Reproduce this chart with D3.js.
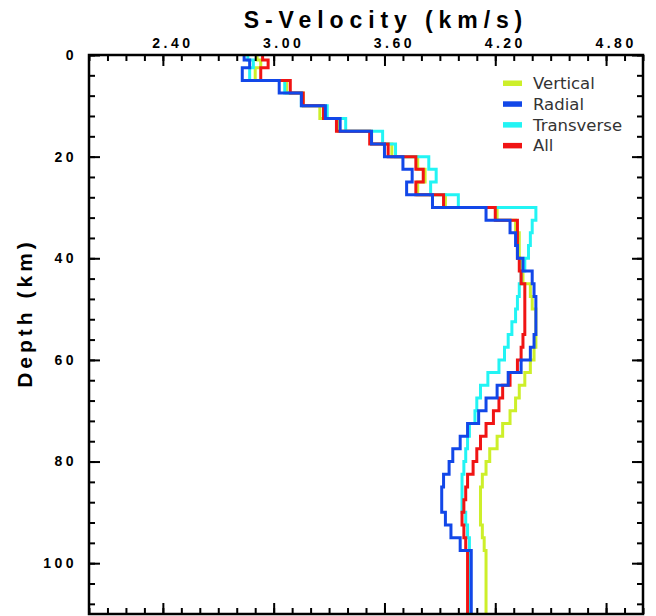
<!DOCTYPE html>
<html><head><meta charset="utf-8">
<script src="https://cdn.jsdelivr.net/npm/d3@7"></script>
<style>body{margin:0;background:#fff;} svg{display:block;}</style>
</head><body>
<script>
// Layer top depths (km); last layer extends to bottomDepth
const layerTops = [0,1,2.5,5,7.5,10,12.5,15,17.5,20,22.5,25,27.5,30,32.5,35,37.5,40,42.5,45,47.5,50,52.5,55,57.5,60,62.5,65,67.5,70,72.5,75,77.5,80,82.5,85,87.5,90,92.5,95,97.5];
const bottomDepth = 110;

const vertical = [2.91,2.93,2.90,3.07,3.16,3.25,3.35,3.53,3.64,3.78,3.82,3.78,3.93,4.21,4.31,4.33,4.33,4.34,4.35,4.39,4.40,4.42,4.42,4.42,4.41,4.39,4.36,4.33,4.31,4.28,4.24,4.21,4.17,4.15,4.13,4.12,4.12,4.12,4.13,4.14,4.15];
const radial = [2.84,2.87,2.83,3.03,3.15,3.28,3.36,3.53,3.60,3.70,3.75,3.72,3.86,4.15,4.28,4.31,4.32,4.35,4.40,4.41,4.42,4.42,4.42,4.41,4.39,4.34,4.27,4.21,4.15,4.11,4.05,4.01,3.97,3.95,3.92,3.91,3.91,3.93,3.96,4.01,4.07];
const transverse = [2.86,2.89,2.87,3.06,3.15,3.29,3.39,3.59,3.66,3.84,3.88,3.85,4.00,4.42,4.40,4.39,4.38,4.36,4.34,4.33,4.32,4.31,4.29,4.27,4.25,4.22,4.16,4.12,4.10,4.09,4.06,4.05,4.04,4.03,4.02,4.02,4.02,4.04,4.05,4.06,4.06];
const all = [2.94,2.97,2.93,3.09,3.16,3.27,3.34,3.52,3.62,3.77,3.81,3.77,3.92,4.20,4.32,4.32,4.32,4.33,4.34,4.36,4.36,4.36,4.36,4.35,4.34,4.32,4.28,4.24,4.22,4.19,4.15,4.12,4.10,4.08,4.05,4.04,4.03,4.02,4.03,4.04,4.05];

const seriesNames = ["Vertical","Radial","Transverse","All"];
const seriesColors = ["#cdef2a","#1247e8","#22f4f4","#f01414"];
const drawOrder = ["Vertical","Transverse","All","Radial"];

const xTickLabels = ["2.40","3.00","3.60","4.20","4.80"];
const yTickLabels = ["0","20","40","60","80","100"];
const xDomain = [2.0, 5.0];
const yDomain = [0, 110];
const xMinorStep = 0.1;
const yMinorStep = 4;

const W = 656, H = 616;
const M = {left: 89, right: 643, top: 55, bottom: 614};

const svg = d3.select("body").append("svg").attr("width", W).attr("height", H);
const x = d3.scaleLinear().domain(xDomain).range([M.left, M.right]);
const y = d3.scaleLinear().domain(yDomain).range([M.top, M.bottom]);

const seriesData = {Vertical: vertical, Radial: radial, Transverse: transverse, All: all};

// profiles
const line = d3.line().x(d => x(d[0])).y(d => y(d[1]));
svg.append("clipPath").attr("id","plotclip").append("rect")
  .attr("x", M.left).attr("y", M.top).attr("width", M.right-M.left).attr("height", M.bottom-M.top);
const g = svg.append("g").attr("clip-path","url(#plotclip)");
drawOrder.forEach(name => {
  const vals = seriesData[name];
  const pts = [];
  vals.forEach((v,i) => {
    const top = layerTops[i];
    const bot = i < layerTops.length-1 ? layerTops[i+1] : bottomDepth;
    pts.push([v, top]); pts.push([v, bot]);
  });
  g.append("path").attr("d", line(pts)).attr("fill","none")
    .attr("stroke", seriesColors[seriesNames.indexOf(name)])
    .attr("stroke-width", 3).attr("stroke-linejoin","miter");
});

// axes ticks (inward)
const xMajor = xTickLabels.map(Number);
const yMajor = yTickLabels.map(Number);
const xMinor = d3.range(Math.round((xDomain[1]-xDomain[0])/xMinorStep)+1).map(i => +(xDomain[0]+i*xMinorStep).toFixed(2));
const yMinor = d3.range(0, yDomain[1]+0.001, yMinorStep);

function styleAxis(sel){
  sel.select(".domain").remove();
  sel.selectAll(".tick line").attr("stroke","#000").attr("stroke-width",2);
  sel.selectAll(".tick text").remove();
}
const tickMajor = 11, tickMinor = 6;
svg.append("g").attr("transform",`translate(0,${M.top})`).call(d3.axisBottom(x).tickValues(xMinor).tickSize(tickMinor)).call(styleAxis);
svg.append("g").attr("transform",`translate(0,${M.top})`).call(d3.axisBottom(x).tickValues(xMajor).tickSize(tickMajor)).call(styleAxis);
svg.append("g").attr("transform",`translate(0,${M.bottom})`).call(d3.axisTop(x).tickValues(xMinor).tickSize(tickMinor)).call(styleAxis);
svg.append("g").attr("transform",`translate(0,${M.bottom})`).call(d3.axisTop(x).tickValues(xMajor).tickSize(tickMajor)).call(styleAxis);
svg.append("g").attr("transform",`translate(${M.left},0)`).call(d3.axisRight(y).tickValues(yMinor).tickSize(tickMinor)).call(styleAxis);
svg.append("g").attr("transform",`translate(${M.left},0)`).call(d3.axisRight(y).tickValues(yMajor).tickSize(tickMajor)).call(styleAxis);
svg.append("g").attr("transform",`translate(${M.right},0)`).call(d3.axisLeft(y).tickValues(yMinor).tickSize(tickMinor)).call(styleAxis);
svg.append("g").attr("transform",`translate(${M.right},0)`).call(d3.axisLeft(y).tickValues(yMajor).tickSize(tickMajor)).call(styleAxis);

// frame
svg.append("rect").attr("x", M.left).attr("y", M.top).attr("width", M.right-M.left).attr("height", M.bottom-M.top)
  .attr("fill","none").attr("stroke","#000").attr("stroke-width",2.5);

const font = "'Liberation Sans', Arial, sans-serif";
// top tick labels
svg.append("g").selectAll("text").data(xTickLabels).join("text")
  .attr("x", d => x(+d) + 10).attr("y", 48)
  .attr("text-anchor","middle").attr("font-family", font).attr("font-weight","bold")
  .attr("font-size", 14).attr("letter-spacing", 3.5).attr("fill","#000").text(d => d);
// left tick labels
svg.append("g").selectAll("text").data(yTickLabels).join("text")
  .attr("x", 77).attr("y", d => y(+d)).attr("dy","0.35em")
  .attr("text-anchor","end").attr("font-family", font).attr("font-weight","bold")
  .attr("font-size", 14).attr("letter-spacing", 3.5).attr("fill","#000").text(d => d);

// titles
svg.append("text").attr("x", 386).attr("y", 28).attr("text-anchor","middle")
  .attr("font-family", font).attr("font-weight","bold").attr("font-size", 23).attr("letter-spacing", 5.9)
  .text("S-Velocity (km/s)");
svg.append("text").attr("transform","translate(32,313) rotate(-90)").attr("text-anchor","middle")
  .attr("font-family", font).attr("font-weight","bold").attr("font-size", 21).attr("letter-spacing", 4)
  .text("Depth (km)");

// legend
const leg = svg.append("g");
seriesNames.forEach((name,i) => {
  const yy = 83 + i*20.8;
  leg.append("rect").attr("x", 503).attr("y", yy-2.5).attr("width", 19).attr("height", 5.5).attr("fill", seriesColors[i]);
  leg.append("text").attr("x", 533).attr("y", yy).attr("dy","0.36em")
    .attr("font-family","'DejaVu Sans', sans-serif").attr("font-size", 16.5).attr("fill","#333").text(name);
});
</script>
</body></html>
